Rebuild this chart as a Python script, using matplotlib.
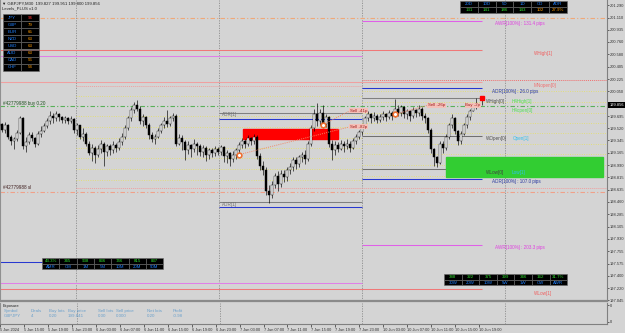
import numpy as np
import matplotlib
matplotlib.use("Agg")
from matplotlib import pyplot as plt
from matplotlib.patches import Rectangle

plt.rcParams['font.family'] = ['Liberation Sans', 'DejaVu Sans']

BG = "#d4d4d4"

# GBPJPY M30 candles
first_open = 199.55
closes = [199.58, 199.50, 199.56, 199.40, 199.33, 199.36, 199.45, 199.66, 199.26, 199.32,
          199.42, 199.38, 199.30, 199.44, 199.48, 199.55, 199.62, 199.70, 199.66, 199.72,
          199.68, 199.64, 199.66, 199.63, 199.65, 199.50, 199.56, 199.40, 199.44, 199.30,
          199.17, 199.24, 199.13, 199.22, 199.30, 199.18, 199.26, 199.20, 199.28, 199.24,
          199.32, 199.40, 199.52, 199.66, 199.78, 199.86, 199.80, 199.63, 199.68, 199.57,
          199.42, 199.36, 199.40, 199.48, 199.56, 199.63, 199.58, 199.66, 199.70, 199.30,
          199.38, 199.32, 199.20, 199.28, 199.22, 199.30, 199.26, 199.18, 199.24, 199.14,
          199.20, 199.16, 199.22, 199.18, 199.25, 199.12, 199.16, 199.08, 199.14, 199.20,
          199.28, 199.34, 199.30, 199.38, 199.34, 199.40, 199.12, 198.98, 198.92, 198.62,
          198.56, 198.70, 198.84, 198.72, 198.86, 198.82, 198.92, 198.96, 199.06, 199.00,
          199.10, 199.14, 199.08, 199.30, 199.52, 199.72, 199.62, 199.74, 199.58, 199.68,
          199.30, 199.20, 199.28, 199.22, 199.30, 199.26, 199.30, 199.24, 199.34, 199.40,
          199.46, 199.54, 199.66, 199.72, 199.66, 199.70, 199.64, 199.68, 199.72, 199.68,
          199.74, 199.70, 199.80, 199.74, 199.82, 199.72, 199.76, 199.70, 199.78, 199.74,
          199.80, 199.70, 199.66, 199.50, 199.22, 199.10, 199.02, 199.30, 199.24, 199.40,
          199.56, 199.66, 199.48, 199.34, 199.44, 199.56, 199.68, 199.76, 199.83, 199.856]
highs = [199.62, 199.60, 199.61, 199.58, 199.42, 199.40, 199.50, 199.70, 199.68, 199.40,
         199.47, 199.46, 199.40, 199.48, 199.55, 199.60, 199.66, 199.76, 199.74, 199.77,
         199.74, 199.70, 199.70, 199.68, 199.69, 199.66, 199.60, 199.57, 199.52, 199.46,
         199.33, 199.30, 199.27, 199.28, 199.35, 199.32, 199.30, 199.29, 199.33, 199.31,
         199.38, 199.45, 199.56, 199.70, 199.82, 199.90, 199.93, 199.84, 199.72, 199.70,
         199.60, 199.46, 199.44, 199.52, 199.60, 199.68, 199.78, 199.70, 199.74, 199.72,
         199.44, 199.42, 199.35, 199.33, 199.30, 199.36, 199.32, 199.29, 199.28, 199.26,
         199.24, 199.24, 199.27, 199.25, 199.28, 199.27, 199.20, 199.18, 199.19, 199.24,
         199.32, 199.38, 199.37, 199.42, 199.40, 199.44, 199.42, 199.16, 199.05, 198.96,
         198.70, 198.76, 198.88, 198.90, 198.92, 198.92, 198.96, 199.02, 199.10, 199.10,
         199.14, 199.18, 199.20, 199.34, 199.56, 199.80, 199.88, 199.80, 199.85, 199.72,
         199.70, 199.35, 199.34, 199.32, 199.35, 199.33, 199.36, 199.33, 199.38, 199.44,
         199.50, 199.58, 199.70, 199.76, 199.74, 199.75, 199.72, 199.72, 199.76, 199.74,
         199.78, 199.77, 199.94, 199.86, 199.86, 199.84, 199.80, 199.78, 199.82, 199.80,
         199.86, 199.82, 199.74, 199.68, 199.52, 199.24, 199.12, 199.34, 199.34, 199.44,
         199.60, 199.72, 199.68, 199.50, 199.48, 199.60, 199.72, 199.80, 199.86, 199.951]
lows = [199.52, 199.47, 199.45, 199.36, 199.28, 199.22, 199.33, 199.44, 199.22, 199.18,
        199.30, 199.33, 199.25, 199.28, 199.40, 199.46, 199.52, 199.58, 199.60, 199.63,
        199.62, 199.59, 199.60, 199.58, 199.60, 199.45, 199.42, 199.37, 199.33, 199.26,
        199.13, 199.05, 199.02, 199.10, 199.16, 198.98, 199.12, 199.14, 199.16, 199.18,
        199.20, 199.28, 199.36, 199.50, 199.63, 199.74, 199.76, 199.58, 199.55, 199.52,
        199.37, 199.32, 199.30, 199.38, 199.45, 199.52, 199.54, 199.55, 199.62, 199.26,
        199.28, 199.20, 199.06, 199.15, 199.10, 199.18, 199.14, 199.12, 199.10, 199.05,
        199.08, 199.10, 199.12, 199.13, 199.14, 199.04, 199.02, 198.98, 199.03, 199.08,
        199.16, 199.24, 199.24, 199.27, 199.28, 199.30, 199.08, 198.92, 198.85, 198.56,
        198.44, 198.52, 198.66, 198.62, 198.68, 198.74, 198.76, 198.86, 198.90, 198.94,
        198.96, 199.04, 199.00, 199.05, 199.26, 199.48, 199.55, 199.56, 199.52, 199.54,
        199.25, 199.06, 199.14, 199.18, 199.20, 199.18, 199.22, 199.18, 199.22, 199.30,
        199.36, 199.42, 199.52, 199.62, 199.60, 199.62, 199.59, 199.61, 199.64, 199.63,
        199.65, 199.64, 199.68, 199.70, 199.70, 199.66, 199.65, 199.62, 199.66, 199.68,
        199.70, 199.64, 199.60, 199.45, 199.16, 198.98, 198.96, 199.00, 199.16, 199.20,
        199.36, 199.52, 199.43, 199.28, 199.30, 199.42, 199.52, 199.64, 199.76, 199.800]
opens = [first_open] + closes[:-1]
opens[-1] = 199.827

# price axis labels
price_ticks = [201.290, 201.110, 200.935, 200.760, 200.580, 200.405, 200.225, 200.050,
               199.875, 199.695, 199.520, 199.345, 199.165, 198.990, 198.815, 198.635,
               198.460, 198.285, 198.105, 197.930, 197.755, 197.575, 197.400, 197.220, 197.045]
time_labels = ["5 Jun 2024", "5 Jun 15:00", "5 Jun 19:00", "5 Jun 23:00", "6 Jun 03:00",
               "6 Jun 07:00", "6 Jun 11:00", "6 Jun 15:00", "6 Jun 19:00", "6 Jun 23:00",
               "7 Jun 03:00", "7 Jun 07:00", "7 Jun 11:00", "7 Jun 15:00", "7 Jun 19:00",
               "7 Jun 23:00", "10 Jun 03:00", "10 Jun 07:00", "10 Jun 11:00", "10 Jun 15:00",
               "10 Jun 19:00"]
bars_per_label = 8

# session boundaries (bar positions)
separators = [25.7, 73.3, 121.0, 168.7]
chart_end = 202.7
levels_end = 161.0

# levels: (price, start, end, colour)
solid_levels = [
    (200.644, 0, levels_end, "#f07878"),   # WHigh[1]
    (200.184, 0, levels_end, "#f0a0a0"),   # MNopen[0]
    (197.210, 0, levels_end, "#f07878"),   # WLow[1]
    (200.557, 0, 121.0, "#e080e8"),
    (197.296, 0, 121.0, "#e080e8"),
    (197.598, 0, 25.7, "#2838d0"),
    (199.738, 73.3, 121.0, "#808080"),
    (199.652, 73.3, 121.0, "#2838d0"),
    (198.460, 73.3, 121.0, "#808080"),
    (198.388, 73.3, 121.0, "#2838d0"),
    (201.060, 121.0, levels_end, "#e060e8"),
    (200.098, 121.0, levels_end, "#2838d0"),
    (199.951, 121.0, levels_end, "#808080"),
    (199.408, 121.0, levels_end, "#707070"),
    (198.934, 121.0, levels_end, "#707070"),
    (198.790, 121.0, levels_end, "#2838d0"),
    (197.842, 121.0, levels_end, "#e060e8"),
]
dashdot_levels = [
    (201.110, "#f0a878"),
    (199.841, "#58b058"),   # buy entry
    (198.603, "#f0a088"),   # stop loss
]
yellow_day6 = [199.983, 199.695, 199.537, 199.379, 199.236, 199.092, 198.934, 198.776]
yellow_day10 = [200.055, 199.897, 199.738, 199.595, 199.451, 199.293, 199.149, 198.991, 198.833]

# zones (start bar, end bar, low, high)
red_zone = (81.3, 113.0, 199.365, 199.508)
green_zone = (149.0, 201.3, 198.819, 199.106)

# closed trades
trade_open_bar = [80, 108, 132]
trade_open_price = [199.14, 199.57, 199.72]
trade_close_bar = [117, 117, 143]
trade_close_price = [199.54, 199.77, 199.85]
trade_label = ["Sell -82p", "Sell -41p", "Sell -26p"]

# info panels
ccy_names = ["JPY", "GBP", "EUR", "NZD", "USD", "AUD", "CAD", "CHF"]
ccy_values = [96, 79, 65, 63, 63, 63, 56, 54]
adr_head = ["20D", "10D", "5D", "1D", "CD", "ADR"]
adr_vals = ["131", "141", "186", "143", "102", "27.9%"]
amr_vals = ["43.3%", "345", "938", "836", "746", "815", "837"]
amr_head = ["AMR", "CM", "1M", "5M", "10M", "20M", "50M"]
awr_vals = ["388", "322", "375", "399", "346", "162", "31.7%"]
awr_head = ["30W", "20W", "10W", "5W", "1W", "CW", "AWR"]
exp_head = ["Symbol", "Deals", "Buy lots", "Buy price", "Sell lots", "Sell price", "Net lots", "Profit"]
exp_vals = ["GBPJPY", "4", "0.20", "199.841", "0.00", "0.000", "0.20", "-0.98"]

W, H = 625, 333
fig = plt.figure(figsize=(W / 100, H / 100), dpi=100, facecolor=BG)
ax = fig.add_axes([0, (H - 301) / H, 607 / W, 301 / H], facecolor=BG)
ax2 = fig.add_axes([0, 9 / H, 607 / W, 21 / H], facecolor=BG)
ov = fig.add_axes([0, 0, 1, 1], facecolor="none")
ov.set_xlim(0, W)
ov.set_ylim(H, 0)
ov.axis("off")

ymin, ymax = 197.037, 201.362
ax.set_xlim(1 / 3, chart_end)
ax.set_ylim(ymin, ymax)
ax2.set_xlim(1 / 3, chart_end)
ax2.set_ylim(0, 1)

# separators
for s in separators:
    ax.axvline(s, color="#8c8c8c", ls=(0, (1.5, 1.5)), lw=0.6, zorder=1)
    ax2.axvline(s, color="#8c8c8c", ls=(0, (1.5, 1.5)), lw=0.6)

# level lines
for p in yellow_day6:
    ax.hlines(p, separators[0], separators[2], color="#e6e060", ls=(0, (1, 1.8)), lw=0.6, zorder=1)
for p in yellow_day10:
    ax.hlines(p, separators[2], chart_end, color="#e6e060", ls=(0, (1, 1.8)), lw=0.6, zorder=1)
ax.hlines(200.126, separators[0], separators[2], color="#f0a0a0", ls=(0, (1, 1)), lw=0.7, zorder=1)
ax.hlines(200.213, separators[2], chart_end, color="#f07070", ls=(0, (1, 1)), lw=0.7, zorder=1)
ax.hlines(198.661, separators[0], chart_end, color="#f0a0a0", ls=(0, (1, 1)), lw=0.7, zorder=1)
for p, c in dashdot_levels:
    ax.axhline(p, color=c, ls=(0, (4, 2, 1, 2)), lw=0.8, zorder=1)
for p, x0, x1, c in solid_levels:
    ax.hlines(p, x0, x1, color=c, lw=0.75, zorder=2)

# zones
for (x0, x1, lo, hi), c in [(red_zone, "#ff0000"), (green_zone, "#32cd32")]:
    ax.add_patch(Rectangle((x0, lo), x1 - x0, hi - lo, facecolor=c, edgecolor=c, zorder=2))

# candles
x = np.arange(len(closes))
o = np.array(opens)
c = np.array(closes)
bull = c >= o
ax.vlines(x, lows, highs, color="black", lw=0.45, zorder=3)
body = np.maximum(np.abs(c - o), 0.005)
ax.bar(x[bull], body[bull], bottom=o[bull], width=0.68, color="white",
       edgecolor="black", linewidth=0.3, zorder=4)
ax.bar(x[~bull], body[~bull], bottom=c[~bull], width=0.68, color="black",
       edgecolor="black", linewidth=0.3, zorder=4)

# trades
for ob, op, cb, cp, lab in zip(trade_open_bar, trade_open_price, trade_close_bar,
                               trade_close_price, trade_label):
    ax.plot([ob, cb], [op, cp], color="#f08868", ls=(0, (1, 1.2)), lw=0.7, zorder=5)
    ax.plot(ob, op, "o", ms=3.6, mfc="#f07030", mec="#f07030", zorder=6)
    ax.plot(ob, op, "o", ms=1.2, mfc="white", mec="white", zorder=7)
    ax.text(cb, cp, lab, fontsize=3.2, color="#a02020", va="center", ha="left", zorder=6,
            bbox=dict(boxstyle="square,pad=0.15", fc="#f4c0b8", ec="none"))
ax.text(levels_end - 5.5, 199.85, "Buy -2p", fontsize=3.2, color="#a02020", va="center",
        ha="left", zorder=6, bbox=dict(boxstyle="square,pad=0.15", fc="#f4c0b8", ec="none"))

# week high marker
ax.vlines(levels_end, 199.86, 199.951, color="#303030", lw=0.6, zorder=6)
ax.plot(levels_end, 199.951, "s", ms=3.2, color="#ff0000", zorder=7)

# level labels
lab_x = levels_end + 1.3
level_texts = [
    ("AWR[100%] : 131.4 pips", lab_x + 3, 201.02, "#e040e0"),
    ("WHigh[1]", lab_x + 16, 200.60, "#f06060"),
    ("MNopen[0]", lab_x + 16, 200.14, "#f07070"),
    ("ADR[100%] : 26.0 pips", lab_x + 2, 200.05, "#2838a0"),
    ("WHigh[0]", lab_x, 199.91, "#505050"),
    ("H4High[1]", lab_x + 8.5, 199.91, "#50e050"),
    ("H4open[0]", lab_x + 8.5, 199.78, "#50e050"),
    ("WOpen[0]", lab_x, 199.37, "#505050"),
    ("Open[1]", lab_x + 9, 199.37, "#30c0f0"),
    ("WLow[0]", lab_x, 198.89, "#404040"),
    ("Low[1]", lab_x + 8.5, 198.89, "#30c0f0"),
    ("ADR[100%] : 107.0 pips", lab_x + 2, 198.75, "#2838a0"),
    ("AWR[100%] : 203.3 pips", lab_x + 3, 197.80, "#e040e0"),
    ("WLow[1]", lab_x + 16, 197.15, "#f06060"),
    ("ADR[1]", separators[1] + 1, 199.71, "#707070"),
    ("ADR[1]", separators[1] + 1, 198.43, "#707070"),
    ("#42779988 buy 0.20", 1.3, 199.87, "#205020"),
    ("#42779988 sl", 1.3, 198.665, "#402020"),
]
for t, tx, ty, col in level_texts:
    ax.text(tx, ty, t, fontsize=3.3, color=col, va="center", ha="left", zorder=8)

# price axis
ax.yaxis.tick_right()
ax.set_yticks(price_ticks)
ax.set_yticklabels([f"{p:.3f}" for p in price_ticks])
ax.tick_params(axis="y", labelsize=2.9, length=1.5, width=0.5, pad=0.8, colors="#303030")
ax.set_xticks([])
ax.spines["top"].set_visible(False)
ax.spines["left"].set_color("#909090")
ax.spines["right"].set_color("#808080")
ax.spines["right"].set_linewidth(0.8)
ax.spines["bottom"].set_color("#8a8a8a")
ax.spines["bottom"].set_linewidth(1.6)

# lower panel and time axis
ax2.spines["top"].set_visible(False)
ax2.spines["left"].set_color("#909090")
ax2.spines["right"].set_color("#808080")
ax2.spines["bottom"].set_color("#808080")
ax2.yaxis.tick_right()
ax2.set_yticks([0.1, 0.9])
ax2.set_yticklabels(["0", "0"])
ax2.tick_params(axis="y", labelsize=2.9, length=1.5, width=0.5, pad=0.8, colors="#303030")
tick_bars = np.arange(len(time_labels)) * bars_per_label
ax2.set_xticks(tick_bars)
ax2.set_xticklabels(time_labels, ha="left")
ax2.tick_params(axis="x", labelsize=2.8, length=2, width=0.5, pad=1.0, colors="#303030")

# current price tag
ov.add_patch(Rectangle((608, 101.8), 17, 6, facecolor="black", edgecolor="none", zorder=10))
ov.text(609.8, 104.9, f"{closes[-1]:.3f}", fontsize=2.9, color="white", va="center", zorder=11)

# header text
ov.text(2, 3.3, "\u25bc GBPJPY,M30  199.827 199.951 199.800 199.856", fontsize=3.1,
        color="#202020", va="center")
ov.text(2, 8.6, "Levels_PLUS v1.0", fontsize=3.1, color="#202020", va="center")


def table(x0, y0, cw, rh, rows):
    for r, row in enumerate(rows):
        for k, (txt, col) in enumerate(row):
            ov.add_patch(Rectangle((x0 + k * cw, y0 + r * rh), cw, rh, facecolor="black",
                                   edgecolor="#6a6a6a", lw=0.4, zorder=10))
            ov.text(x0 + k * cw + cw / 2, y0 + r * rh + rh / 2 + 0.2, txt, fontsize=3.2,
                    color=col, ha="center", va="center", zorder=11)


table(3, 14, 18, 7.1, [[(n, "#2080ff"), (str(v), "#ff3030" if i == 0 else "#ff9a00")]
                      for i, (n, v) in enumerate(zip(ccy_names, ccy_values))])
table(460, 0.5, 17.8, 6,
      [[(h, "#2080ff") for h in adr_head],
       [(v, "#ff9a00" if i >= 4 else "#30e030") for i, v in enumerate(adr_vals)]])
table(42, 258, 17.3, 5.6, [[(v, "#30e030") for v in amr_vals],
                           [(h, "#2080ff") for h in amr_head]])
table(444, 274, 17.6, 5.6, [[(v, "#30e030") for v in awr_vals],
                            [(h, "#2080ff") for h in awr_head]])

# exposure table
ov.text(3, 305.6, "Exposure", fontsize=2.9, color="#202020", va="center")
exp_x = [4, 31, 49, 68, 98, 116, 147, 173]
for ex, h, v in zip(exp_x, exp_head, exp_vals):
    ov.text(ex, 310.8, h, fontsize=3.2, color="#6aa0cc", va="center")
    ov.text(ex, 316.2, v, fontsize=3.2, color="#6aa0cc", va="center")

fig.savefig("out.png", dpi=100, facecolor=BG)
